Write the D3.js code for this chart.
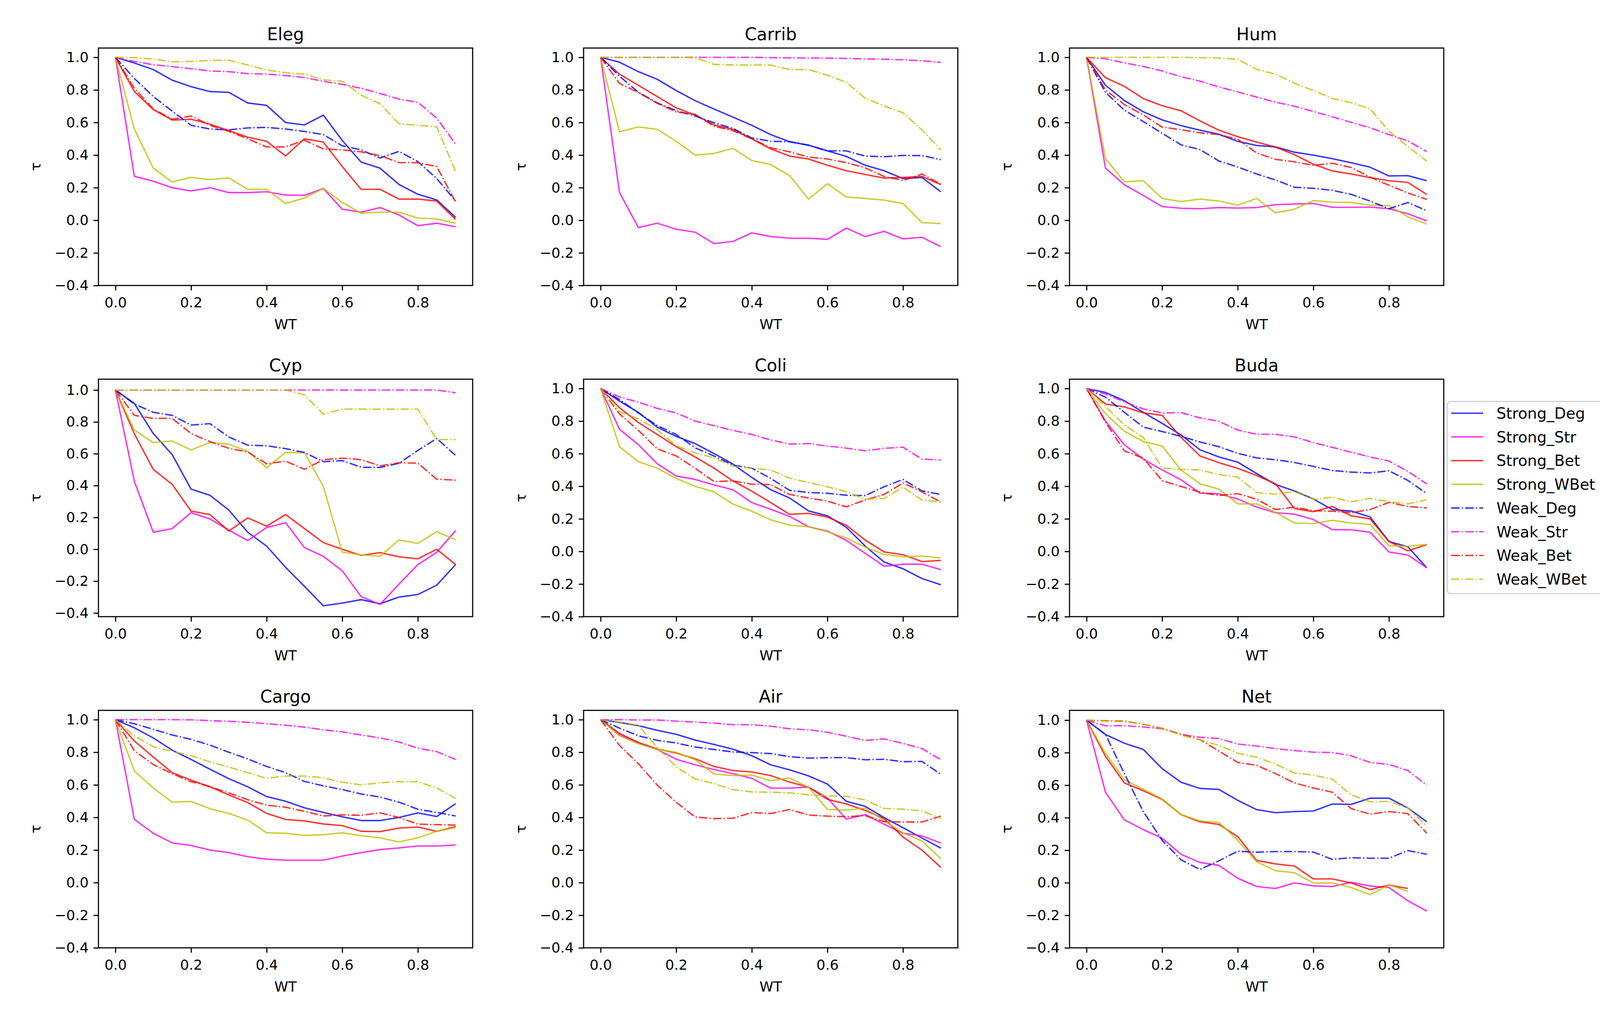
<!DOCTYPE html>
<html>
<head>
<meta charset="utf-8">
<script src="https://cdn.jsdelivr.net/npm/d3@7"></script>
<style>
  body { margin: 0; background: #fff; }
  svg { display: block; }
  text { font-family: "DejaVu Sans", sans-serif; fill: #000; }
</style>
</head>
<body>
<div id="chart"></div>
<script>
// x values (WT) shared by every panel
const wt = [0, 0.05, 0.1, 0.15, 0.2, 0.25, 0.3, 0.35, 0.4, 0.45, 0.5, 0.55, 0.6, 0.65, 0.7, 0.75, 0.8, 0.85, 0.9];

const seriesNames = ["Strong_Deg", "Strong_Str", "Strong_Bet", "Strong_WBet", "Weak_Deg", "Weak_Str", "Weak_Bet", "Weak_WBet"];
const seriesColors = ["#0000ff", "#f800e8", "#ff0000", "#bfbf00", "#0000ff", "#f800e8", "#ff0000", "#bfbf00"];
const seriesDashed = [false, false, false, false, true, true, true, true];

const panelTitles = ["Eleg", "Carrib", "Hum", "Cyp", "Coli", "Buda", "Cargo", "Air", "Net"];
const xTicks = [0, 0.2, 0.4, 0.6, 0.8];
const yTicks = [-0.4, -0.2, 0, 0.2, 0.4, 0.6, 0.8, 1.0];
const yLimits = [[-0.4, 1.057], [-0.4, 1.057], [-0.4, 1.057], [-0.423, 1.068], [-0.4, 1.057], [-0.4, 1.057], [-0.4, 1.057], [-0.4, 1.057], [-0.4, 1.06]];

// one array per series, in seriesNames order
const eleg = [
  [1.0,0.965,0.925,0.86,0.82,0.79,0.785,0.72,0.705,0.60,0.585,0.645,0.49,0.357,0.32,0.22,0.16,0.125,0.018],
  [1.0,0.27,0.24,0.20,0.18,0.20,0.17,0.17,0.175,0.155,0.153,0.195,0.068,0.05,0.078,0.033,-0.033,-0.018,-0.04],
  [1.0,0.79,0.68,0.615,0.62,0.59,0.55,0.51,0.485,0.395,0.50,0.48,0.33,0.19,0.19,0.13,0.13,0.118,0.005],
  [1.0,0.56,0.32,0.235,0.263,0.25,0.26,0.19,0.19,0.103,0.137,0.196,0.11,0.043,0.05,0.05,0.014,0.008,-0.018],
  [1.0,0.87,0.76,0.67,0.583,0.56,0.555,0.567,0.57,0.56,0.545,0.526,0.457,0.432,0.382,0.423,0.36,0.256,0.118],
  [1.0,0.975,0.955,0.943,0.93,0.916,0.912,0.90,0.897,0.888,0.876,0.853,0.834,0.81,0.778,0.744,0.724,0.627,0.467],
  [1.0,0.81,0.683,0.62,0.64,0.583,0.545,0.50,0.45,0.45,0.492,0.438,0.432,0.42,0.397,0.354,0.353,0.33,0.112],
  [1.0,0.998,0.99,0.972,0.975,0.981,0.982,0.953,0.922,0.906,0.897,0.862,0.853,0.768,0.715,0.592,0.583,0.573,0.30]
];
const carrib = [
  [1.0,0.97,0.912,0.865,0.796,0.734,0.683,0.633,0.583,0.526,0.482,0.461,0.426,0.392,0.338,0.304,0.256,0.263,0.175],
  [1.0,0.17,-0.045,-0.018,-0.055,-0.073,-0.143,-0.13,-0.077,-0.10,-0.11,-0.11,-0.117,-0.048,-0.10,-0.068,-0.114,-0.104,-0.162],
  [1.0,0.897,0.828,0.759,0.69,0.646,0.585,0.558,0.50,0.438,0.394,0.376,0.338,0.304,0.281,0.259,0.263,0.269,0.219],
  [1.0,0.543,0.573,0.558,0.485,0.40,0.41,0.442,0.367,0.342,0.275,0.13,0.225,0.143,0.134,0.124,0.103,-0.014,-0.02],
  [1.0,0.884,0.786,0.72,0.673,0.64,0.598,0.564,0.505,0.485,0.482,0.461,0.426,0.426,0.394,0.39,0.398,0.397,0.372],
  [1.0,1.0,1.0,1.0,1.0,1.0,1.0,1.0,1.0,0.998,0.997,0.996,0.995,0.993,0.99,0.988,0.985,0.979,0.969],
  [1.0,0.84,0.784,0.718,0.665,0.65,0.577,0.55,0.50,0.445,0.42,0.388,0.376,0.354,0.322,0.269,0.244,0.284,0.221],
  [1.0,1.0,1.0,1.0,1.0,0.998,0.956,0.953,0.953,0.953,0.925,0.925,0.89,0.847,0.749,0.702,0.66,0.555,0.432]
];
const hum = [
  [1.0,0.829,0.735,0.666,0.616,0.581,0.553,0.528,0.484,0.459,0.45,0.418,0.40,0.378,0.353,0.326,0.272,0.274,0.243],
  [1.0,0.32,0.218,0.153,0.084,0.074,0.071,0.078,0.075,0.078,0.096,0.10,0.103,0.08,0.08,0.081,0.071,0.04,-0.004],
  [1.0,0.875,0.822,0.747,0.703,0.672,0.61,0.553,0.513,0.48,0.449,0.403,0.344,0.303,0.284,0.262,0.243,0.232,0.159],
  [1.0,0.38,0.236,0.243,0.134,0.115,0.13,0.118,0.093,0.134,0.046,0.068,0.121,0.111,0.109,0.093,0.09,0.021,-0.023],
  [1.0,0.785,0.676,0.606,0.534,0.463,0.434,0.364,0.327,0.284,0.247,0.203,0.196,0.184,0.159,0.118,0.071,0.109,0.059],
  [1.0,0.991,0.966,0.944,0.916,0.881,0.854,0.818,0.788,0.756,0.725,0.70,0.668,0.635,0.601,0.568,0.526,0.487,0.422],
  [1.0,0.80,0.71,0.647,0.572,0.556,0.537,0.526,0.497,0.413,0.374,0.359,0.337,0.35,0.324,0.265,0.215,0.168,0.128],
  [1.0,1.0,1.0,1.0,1.0,1.0,0.998,0.996,0.988,0.926,0.897,0.841,0.797,0.747,0.722,0.685,0.547,0.453,0.363]
];
const cyp = [
  [1.0,0.916,0.727,0.595,0.378,0.339,0.246,0.107,0.02,-0.113,-0.232,-0.355,-0.338,-0.316,-0.342,-0.30,-0.284,-0.225,-0.096],
  [1.0,0.427,0.107,0.13,0.23,0.19,0.12,0.055,0.137,0.167,0.011,-0.044,-0.135,-0.297,-0.346,-0.219,-0.096,-0.019,0.117],
  [1.0,0.725,0.502,0.408,0.24,0.218,0.115,0.197,0.145,0.218,0.13,0.042,0.0,-0.038,-0.021,-0.047,-0.06,0.0,-0.096],
  [1.0,0.75,0.67,0.68,0.624,0.67,0.66,0.615,0.511,0.608,0.606,0.395,-0.018,-0.035,-0.044,0.059,0.037,0.111,0.059],
  [1.0,0.912,0.86,0.841,0.78,0.789,0.705,0.654,0.65,0.632,0.608,0.55,0.557,0.515,0.514,0.54,0.621,0.696,0.589],
  [1.0,1.0,1.0,1.0,1.0,1.0,1.0,1.0,1.0,1.0,1.0,1.0,1.0,1.0,1.0,1.0,1.0,1.0,0.983],
  [1.0,0.841,0.822,0.822,0.727,0.676,0.634,0.611,0.537,0.554,0.502,0.563,0.572,0.563,0.524,0.543,0.541,0.44,0.434],
  [1.0,1.0,1.0,1.0,1.0,1.0,1.0,1.0,1.0,1.0,0.97,0.848,0.88,0.88,0.88,0.88,0.88,0.689,0.689]
];
const coli = [
  [1.0,0.923,0.853,0.762,0.706,0.662,0.601,0.536,0.454,0.379,0.328,0.249,0.219,0.148,0.033,-0.065,-0.106,-0.166,-0.204],
  [1.0,0.75,0.655,0.538,0.463,0.442,0.408,0.379,0.30,0.259,0.215,0.152,0.125,0.068,-0.011,-0.091,-0.078,-0.078,-0.112],
  [1.0,0.882,0.791,0.718,0.643,0.58,0.511,0.433,0.37,0.30,0.228,0.234,0.211,0.161,0.07,-0.003,-0.02,-0.062,-0.055],
  [1.0,0.643,0.551,0.511,0.448,0.40,0.366,0.291,0.247,0.194,0.161,0.152,0.121,0.083,0.026,-0.018,-0.033,-0.028,-0.04],
  [1.0,0.932,0.85,0.772,0.718,0.636,0.586,0.53,0.511,0.448,0.375,0.362,0.357,0.345,0.343,0.397,0.442,0.372,0.35],
  [1.0,0.948,0.916,0.878,0.85,0.80,0.772,0.743,0.718,0.684,0.659,0.662,0.647,0.634,0.618,0.633,0.64,0.567,0.561],
  [1.0,0.844,0.743,0.63,0.586,0.511,0.429,0.433,0.413,0.41,0.35,0.328,0.309,0.274,0.316,0.35,0.42,0.366,0.303],
  [1.0,0.857,0.815,0.747,0.649,0.605,0.574,0.523,0.511,0.50,0.45,0.423,0.397,0.366,0.322,0.325,0.394,0.316,0.303]
];
const buda = [
  [1.0,0.976,0.925,0.854,0.786,0.715,0.624,0.58,0.548,0.478,0.411,0.371,0.322,0.257,0.248,0.212,0.061,0.029,-0.10],
  [1.0,0.80,0.655,0.567,0.50,0.44,0.358,0.354,0.322,0.272,0.238,0.229,0.196,0.134,0.133,0.118,-0.003,-0.022,-0.10],
  [1.0,0.905,0.887,0.851,0.835,0.70,0.586,0.545,0.51,0.466,0.415,0.263,0.244,0.276,0.219,0.20,0.061,0.004,0.042],
  [1.0,0.845,0.738,0.675,0.647,0.50,0.415,0.383,0.292,0.292,0.24,0.175,0.171,0.191,0.175,0.166,0.035,0.032,0.044],
  [1.0,0.947,0.854,0.763,0.736,0.706,0.672,0.643,0.602,0.574,0.563,0.546,0.522,0.497,0.487,0.482,0.495,0.436,0.355],
  [1.0,0.966,0.918,0.875,0.85,0.852,0.82,0.799,0.745,0.719,0.719,0.703,0.668,0.639,0.609,0.58,0.555,0.491,0.415],
  [1.0,0.794,0.617,0.573,0.434,0.399,0.364,0.343,0.355,0.32,0.257,0.272,0.25,0.247,0.238,0.257,0.301,0.276,0.267],
  [1.0,0.89,0.776,0.70,0.512,0.504,0.50,0.472,0.457,0.361,0.352,0.367,0.32,0.333,0.305,0.326,0.305,0.292,0.317]
];
const cargo = [
  [1.0,0.95,0.888,0.813,0.756,0.696,0.638,0.588,0.528,0.50,0.459,0.431,0.404,0.381,0.381,0.40,0.428,0.406,0.485],
  [1.0,0.388,0.303,0.244,0.228,0.20,0.184,0.159,0.144,0.138,0.138,0.138,0.163,0.184,0.203,0.213,0.225,0.225,0.231],
  [1.0,0.869,0.771,0.675,0.629,0.588,0.538,0.491,0.425,0.388,0.379,0.36,0.35,0.315,0.313,0.335,0.341,0.315,0.344],
  [1.0,0.685,0.581,0.494,0.498,0.454,0.425,0.384,0.306,0.303,0.29,0.294,0.306,0.288,0.275,0.25,0.275,0.315,0.338],
  [1.0,0.975,0.941,0.906,0.879,0.844,0.80,0.759,0.713,0.675,0.621,0.594,0.571,0.544,0.525,0.494,0.45,0.431,0.409],
  [1.0,1.0,1.0,1.0,0.999,0.994,0.99,0.984,0.975,0.966,0.954,0.938,0.925,0.906,0.888,0.863,0.825,0.804,0.756],
  [1.0,0.809,0.725,0.669,0.619,0.59,0.55,0.509,0.475,0.463,0.438,0.409,0.416,0.413,0.428,0.40,0.359,0.356,0.353],
  [1.0,0.90,0.834,0.806,0.779,0.741,0.709,0.675,0.64,0.654,0.654,0.644,0.616,0.60,0.613,0.619,0.619,0.581,0.516]
];
const air = [
  [1.0,0.983,0.963,0.935,0.91,0.875,0.848,0.819,0.779,0.723,0.692,0.655,0.605,0.499,0.468,0.399,0.337,0.274,0.212],
  [1.0,0.906,0.857,0.817,0.757,0.723,0.694,0.669,0.64,0.58,0.58,0.586,0.52,0.39,0.418,0.358,0.303,0.287,0.243],
  [1.0,0.916,0.86,0.82,0.795,0.76,0.713,0.688,0.679,0.657,0.617,0.586,0.511,0.483,0.443,0.393,0.28,0.20,0.094],
  [1.0,0.901,0.852,0.817,0.80,0.754,0.667,0.657,0.66,0.626,0.642,0.586,0.449,0.445,0.458,0.38,0.305,0.256,0.146],
  [1.0,0.948,0.901,0.873,0.857,0.832,0.817,0.802,0.798,0.792,0.773,0.764,0.767,0.767,0.754,0.757,0.742,0.744,0.665],
  [1.0,1.0,0.998,0.998,0.991,0.985,0.979,0.969,0.969,0.96,0.944,0.938,0.923,0.898,0.873,0.882,0.854,0.823,0.754],
  [1.0,0.842,0.73,0.598,0.493,0.403,0.393,0.395,0.43,0.424,0.449,0.415,0.408,0.405,0.411,0.374,0.372,0.372,0.408],
  [1.0,0.985,0.966,0.829,0.711,0.636,0.608,0.57,0.557,0.555,0.551,0.539,0.532,0.53,0.507,0.455,0.451,0.44,0.395]
];
// Strong_Bet and Strong_WBet stop at 0.85 here
const net = [
  [1.0,0.912,0.858,0.82,0.702,0.618,0.58,0.574,0.507,0.45,0.431,0.438,0.441,0.484,0.482,0.52,0.52,0.46,0.375],
  [1.0,0.557,0.387,0.327,0.274,0.175,0.125,0.107,0.028,-0.023,-0.035,-0.001,-0.019,-0.023,0.003,-0.02,-0.029,-0.111,-0.174],
  [1.0,0.778,0.614,0.566,0.513,0.419,0.375,0.359,0.284,0.137,0.116,0.103,0.024,0.024,-0.001,-0.042,-0.014,-0.035],
  [1.0,0.797,0.633,0.576,0.516,0.419,0.381,0.371,0.261,0.129,0.074,0.062,-0.001,-0.001,-0.029,-0.073,-0.014,-0.052],
  [1.0,0.912,0.672,0.438,0.261,0.141,0.082,0.135,0.194,0.188,0.192,0.192,0.189,0.144,0.154,0.151,0.151,0.198,0.175],
  [1.0,0.965,0.966,0.958,0.947,0.912,0.895,0.887,0.853,0.841,0.825,0.813,0.803,0.801,0.781,0.74,0.728,0.69,0.60],
  [1.0,0.996,0.994,0.975,0.95,0.912,0.88,0.81,0.74,0.722,0.671,0.614,0.583,0.557,0.456,0.422,0.438,0.425,0.305],
  [1.0,0.994,0.991,0.975,0.95,0.908,0.88,0.845,0.797,0.772,0.73,0.675,0.662,0.637,0.541,0.498,0.50,0.46,0.349]
];

const panelData = [eleg, carrib, hum, cyp, coli, buda, cargo, air, net];

// ---- layout (pixels) ----
const W = 4135, H = 2599;
const colLeft = [252, 1494, 2738];
const rowTop = [123, 971, 1819];
const axW = 958, axH = 608;
const fontTick = 36, fontTitle = 44, fontLegend = 39;
const tickLen = 12.6, tickPad = 12.6;
const lineW = 3.6;
const dash = "21.5,5.5,3.4,5.5";
const lineOpacity = 0.8;

const svg = d3.select("#chart").append("svg")
  .attr("width", W)
  .attr("height", H)
  .attr("viewBox", `0 0 ${W} ${H}`);

svg.append("rect").attr("width", W).attr("height", H).attr("fill", "#fff");

const fmt = d3.format(".1f");

panelTitles.forEach((title, p) => {
  const left = colLeft[p % 3];
  const top = rowTop[Math.floor(p / 3)];

  const x = d3.scaleLinear().domain([-0.045, 0.945]).range([0, axW]);
  const y = d3.scaleLinear().domain(yLimits[p]).range([axH, 0]);

  const g = svg.append("g").attr("transform", `translate(${left},${top})`);

  // lines
  const line = d3.line()
    .x(d => x(d[0]))
    .y(d => y(d[1]));

  panelData[p].forEach((vals, s) => {
    const pts = vals.map((v, i) => [wt[i], v]);
    g.append("path")
      .datum(pts)
      .attr("fill", "none")
      .attr("stroke", seriesColors[s])
      .attr("stroke-opacity", lineOpacity)
      .attr("stroke-width", lineW)
      .attr("stroke-linejoin", "round")
      .attr("stroke-dasharray", seriesDashed[s] ? dash : null)
      .attr("d", line);
  });

  // axes
  const xAxis = g.append("g")
    .attr("transform", `translate(0,${axH})`)
    .call(d3.axisBottom(x).tickValues(xTicks).tickFormat(fmt)
      .tickSize(tickLen).tickPadding(tickPad).tickSizeOuter(0));
  const yAxis = g.append("g")
    .call(d3.axisLeft(y).tickValues(yTicks).tickFormat(fmt)
      .tickSize(tickLen).tickPadding(tickPad).tickSizeOuter(0));

  [xAxis, yAxis].forEach(a => {
    a.select(".domain").remove();
    a.selectAll(".tick line").attr("stroke", "#000").attr("stroke-width", 2.9);
    a.selectAll(".tick text")
      .attr("font-family", "DejaVu Sans, sans-serif")
      .attr("font-size", fontTick)
      .attr("fill", "#000");
  });
  xAxis.selectAll(".tick text").attr("dy", "0.85em");

  // frame
  g.append("rect")
    .attr("width", axW)
    .attr("height", axH)
    .attr("fill", "none")
    .attr("stroke", "#000")
    .attr("stroke-width", 2.9);

  // title and labels
  g.append("text")
    .attr("x", axW / 2)
    .attr("y", -20)
    .attr("text-anchor", "middle")
    .attr("font-size", fontTitle)
    .text(title);

  g.append("text")
    .attr("x", axW / 2)
    .attr("y", axH + 112)
    .attr("text-anchor", "middle")
    .attr("font-size", fontTick)
    .text("WT");

  g.append("text")
    .attr("transform", `translate(-148,${axH / 2}) rotate(-90)`)
    .attr("text-anchor", "middle")
    .attr("font-size", fontTick)
    .text("τ");
});

// legend
const legend = svg.append("g").attr("transform", "translate(3705,1028)");
legend.append("rect")
  .attr("width", 400)
  .attr("height", 492)
  .attr("rx", 9)
  .attr("fill", "#fff")
  .attr("fill-opacity", 0.8)
  .attr("stroke", "#d0d0d0")
  .attr("stroke-width", 3);

const legendRowY = d3.scaleLinear().domain([0, 7]).range([30, 455]);

seriesNames.forEach((name, s) => {
  const yy = legendRowY(s);
  legend.append("line")
    .attr("x1", 10).attr("x2", 92)
    .attr("y1", yy).attr("y2", yy)
    .attr("stroke", seriesColors[s])
    .attr("stroke-opacity", lineOpacity)
    .attr("stroke-width", lineW)
    .attr("stroke-dasharray", seriesDashed[s] ? dash : null);
  legend.append("text")
    .attr("x", 126)
    .attr("y", yy)
    .attr("dy", "0.36em")
    .attr("font-size", fontLegend)
    .text(name);
});
</script>
</body>
</html>
